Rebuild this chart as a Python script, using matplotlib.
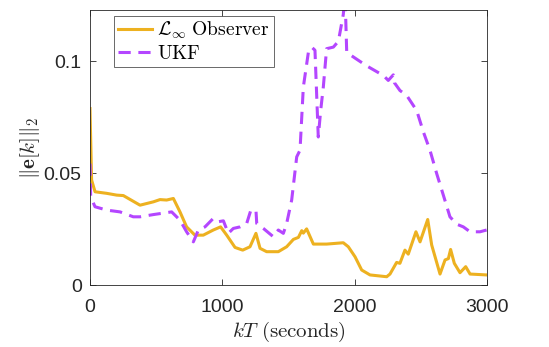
import matplotlib
matplotlib.use("Agg")
import matplotlib.pyplot as plt
import numpy as np

plt.rcParams['mathtext.fontset'] = 'cm'
plt.rcParams['font.family'] = ['Liberation Sans', 'DejaVu Sans']

obs_x = [0, 12, 38, 126, 202, 252, 378, 479, 529, 579, 630, 680, 730, 793, 856, 932, 987, 1033,
         1096, 1154, 1209, 1254, 1285, 1335, 1423, 1486, 1537, 1575, 1600, 1612, 1637, 1688, 1788,
         1914, 1952, 2003, 2053, 2116, 2242, 2267, 2317, 2342, 2380, 2405, 2463, 2494, 2552, 2582,
         2645, 2683, 2708, 2725, 2753, 2796, 2839, 2872, 2997]
obs_y = [0.0789, 0.047, 0.0417, 0.041, 0.0402, 0.040, 0.0357, 0.0372, 0.0382, 0.038, 0.0387,
         0.0327, 0.026, 0.0223, 0.0223, 0.0246, 0.026, 0.0223, 0.0168, 0.0156, 0.0171, 0.0231,
         0.0164, 0.0149, 0.0149, 0.0171, 0.0204, 0.0213, 0.0243, 0.0232, 0.0251, 0.0183, 0.0183,
         0.0189, 0.0171, 0.0126, 0.0067, 0.0045, 0.0037, 0.0049, 0.0101, 0.0097, 0.0156, 0.0138,
         0.0238, 0.0193, 0.0293, 0.0179, 0.0049, 0.0112, 0.0118, 0.0159, 0.0097, 0.0055, 0.0082,
         0.0049, 0.0045]

ukf_x = [0, 5, 38, 126, 227, 327, 378, 479, 617, 680, 730, 781, 819, 869, 932, 970, 1008, 1045,
         1083, 1134, 1184, 1214, 1254, 1260, 1310, 1385, 1423, 1461, 1486, 1524, 1562, 1587, 1612,
         1650, 1675, 1700, 1725, 1743, 1763, 1788, 1839, 1877, 1914, 1927, 1940, 2015, 2091, 2217,
         2254, 2292, 2300, 2342, 2393, 2469, 2519, 2569, 2620, 2670, 2720, 2771, 2821, 2872, 2947,
         2997]
ukf_y = [0.0543, 0.0394, 0.035, 0.0335, 0.0327, 0.0305, 0.0305, 0.0315, 0.0327, 0.029, 0.0238,
         0.0193, 0.0246, 0.026, 0.0298, 0.0283, 0.0287, 0.0231, 0.0253, 0.026, 0.0275, 0.0332,
         0.0335, 0.0275, 0.0253, 0.0216, 0.0246, 0.0231, 0.0275, 0.038, 0.0573, 0.0603, 0.0885,
         0.104, 0.1064, 0.105, 0.0662, 0.078, 0.0885, 0.1057, 0.1064, 0.109, 0.121, 0.13, 0.104,
         0.101, 0.098, 0.0937, 0.0915, 0.094, 0.0905, 0.087, 0.0848, 0.078, 0.0685, 0.0603, 0.0498,
         0.0402, 0.0305, 0.0272, 0.026, 0.0238, 0.0238, 0.0246]

xticks = [0, 1000, 2000, 3000]
yticks = [0, 0.05, 0.1]
ytick_labels = ['0', '0.05', '0.1']

fig = plt.figure(figsize=(5.49, 3.47), dpi=100)
ax = fig.add_axes([90/549, 1-285/347, (487-90)/549, (285-10)/347])

ax.plot(obs_x, obs_y, color='#EDB120', lw=2.2, label=r'$\mathcal{L}_\infty\ \mathrm{Observer}$')
ax.plot(ukf_x, ukf_y, color='#B446FF', lw=2.2, ls=(0, (4, 2.5)), label=r'$\mathrm{UKF}$')

ax.set_xlim(0, 3000)
ax.set_ylim(0, 0.123)
ax.set_xticks(xticks)
ax.set_yticks(yticks)
ax.set_yticklabels(ytick_labels)
ax.tick_params(direction='in', top=True, right=True, labelsize=14, colors='#262626',
               length=4, width=0.6)
ax.tick_params(axis='x', pad=10)
ax.tick_params(axis='y', pad=6)
for s in ax.spines.values():
    s.set_color('#262626')
    s.set_linewidth(0.6)
ax.set_xlabel(r'$kT\ \mathrm{(seconds)}$', fontsize=15, color='#262626', labelpad=3)
ax.set_ylabel(r'$\|\mathbf{e}[k]\|_2$', fontsize=15, color='#262626', labelpad=1)

leg = ax.legend(loc='upper left', bbox_to_anchor=(0.045, 1.0), fontsize=14, frameon=True,
                fancybox=False, edgecolor='#262626', handlelength=1.75, handletextpad=0.3,
                borderpad=0.2, labelspacing=0.2, borderaxespad=0.3)
leg.get_frame().set_linewidth(0.6)

fig.savefig('out.png', dpi=100)
